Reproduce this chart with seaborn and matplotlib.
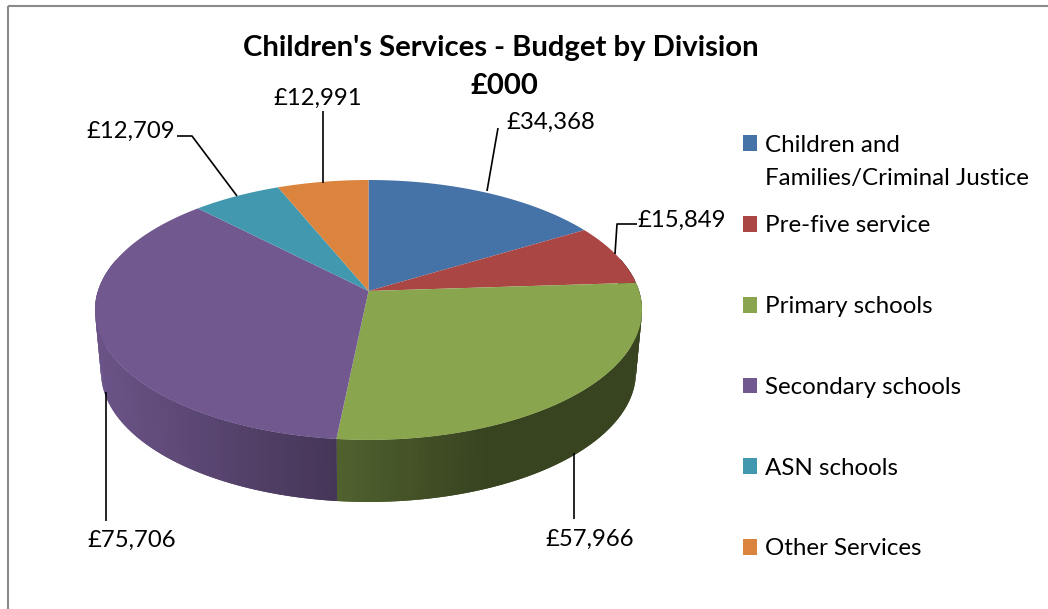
import numpy as np
import matplotlib
matplotlib.use("Agg")
import matplotlib.pyplot as plt
from matplotlib.path import Path
from matplotlib.patches import Rectangle
from matplotlib.transforms import Transform, Affine2D
import seaborn as sns

divisions = ["Children and", "Pre-five service", "Primary schools",
             "Secondary schools", "ASN schools", "Other Services"]
division_continued = "Families/Criminal Justice"
budget = [34368, 15849, 57966, 75706, 12709, 12991]
budget_labels = ["£34,368", "£15,849", "£57,966", "£75,706", "£12,709", "£12,991"]
slice_colors = ["#4572A7", "#AA4643", "#89A54E", "#71588F", "#4198AF", "#DB843D"]
title_lines = ["Children's Services - Budget by Division", "£000"]

sns.set_theme(style="white")
plt.rcParams["font.family"] = ["Lato", "DejaVu Sans"]
TEXT = "#000000"
FS = 17.2


class Tilt(Transform):
    """Perspective view of the unit-circle pie, output in pixel-like data units."""
    input_dims = 2
    output_dims = 2
    is_affine = False
    has_inverse = False

    def __init__(self, scale=1.0, dy=0.0):
        super().__init__()
        self.scale = scale
        self.dy = dy

    def transform_non_affine(self, values):
        v = np.asarray(values, float)
        x, y = v[:, 0], v[:, 1]
        w = 1 + 0.146 * y
        return np.column_stack([368.5 + self.scale * 270.6 * x / w,
                                291 + self.dy - 127.2 * y / w])

    def transform_path_non_affine(self, path):
        polys = path.to_polygons(Affine2D().scale(2000), closed_only=True)
        vs = np.vstack(polys) / 2000
        return Path(self.transform_non_affine(vs), closed=True)


fig = plt.figure(figsize=(10.48, 6.09), dpi=100)
ax = fig.add_axes([0, 0, 1, 1])
palette = sns.color_palette(slice_colors)

wedges, _ = ax.pie(budget, colors=palette, startangle=90, counterclock=False, radius=1,
                   wedgeprops={"linewidth": 0})
ax.set_aspect("auto")
ax.set_xlim(0, 1048)
ax.set_ylim(609, 0)
ax.axis("off")
top = Tilt()
for w in wedges:
    w.set_transform(top + ax.transData)
    w.set_zorder(3)

# side wall, split at the same cumulative angles
bottom = Tilt(scale=0.978, dy=62)
edges = np.cumsum([0] + budget) / sum(budget) * 360


def shade(i, px):
    if i == 2:
        return 0.59 + (0.41 - 0.59) * min(1, max(0, (px - 336) / 150))
    return 0.94 + (0.61 - 0.94) * (px - 100) / 236


for i, col in enumerate(palette):
    a0, a1 = max(edges[i], 75), min(edges[i + 1], 285)
    if a1 <= a0:
        continue
    n = int(a1 - a0) + 2
    th = np.radians(np.linspace(a0, a1, n))
    pts = np.column_stack([np.sin(th), np.cos(th)])
    p_top, p_bot = top.transform(pts), bottom.transform(pts)
    # each band also covers the next one, so later bands overlay the seam
    order = range(n - 1) if i == 2 else range(n - 2, -1, -1)
    for k in order:
        lo, hi = (k, min(k + 2, n - 1)) if i == 2 else (max(k - 1, 0), k + 1)
        quad = np.vstack([p_top[lo], p_top[hi], p_bot[hi], p_bot[lo]])
        px = (p_top[k, 0] + p_top[k + 1, 0]) / 2
        c = np.clip(np.array(col) * shade(i, px), 0, 1)
        ax.fill(quad[:, 0], quad[:, 1], color=c, lw=0, zorder=2 + (0.1 if i == 3 else 0))

# chart frame
ax.add_patch(Rectangle((7.5, 5.5), 1100, 700, fill=False, ec="#8a8a8a", lw=1.5, zorder=1, clip_on=False))

# leader lines
leaders = [([498, 487], [128, 191]),
           ([637, 617, 615], [224, 224, 254]),
           ([574, 574], [453, 519]),
           ([106, 106], [392, 521]),
           ([177, 192, 237], [136, 136, 196]),
           ([323, 323], [111, 183])]
for xs, ys in leaders:
    ax.plot(xs, ys, color="black", lw=1.2, zorder=4, solid_capstyle="butt")

label_pos = [(551, 122), (682, 220), (590, 539), (132, 540), (131, 131), (318, 98)]
for txt, (x, y) in zip(budget_labels, label_pos):
    ax.text(x, y, txt, ha="center", va="center", fontsize=FS, color=TEXT, zorder=5)

ax.text(500.5, 48, title_lines[0], ha="center", va="center", fontsize=21.1, fontweight="bold", color=TEXT)
ax.text(504, 86, title_lines[1], ha="center", va="center", fontsize=21.1, fontweight="bold", color=TEXT)

handles = [Rectangle((0, 0), 1, 1, fc=c, ec="none") for c in palette]
leg = ax.legend(handles, divisions, loc="upper left", bbox_to_anchor=(742.5 / 1048, 1 - 134.8 / 609),
                bbox_transform=fig.transFigure, frameon=False, fontsize=17.4, borderpad=0, borderaxespad=0,
                handlelength=0.62, handleheight=0.62, handletextpad=0.3, labelspacing=2.47)
for t in leg.get_texts():
    t.set_color(TEXT)
ax.text(765, 178, division_continued, ha="left", va="center", fontsize=17.4, color=TEXT)

fig.savefig("out.png", dpi=100, facecolor="white")
